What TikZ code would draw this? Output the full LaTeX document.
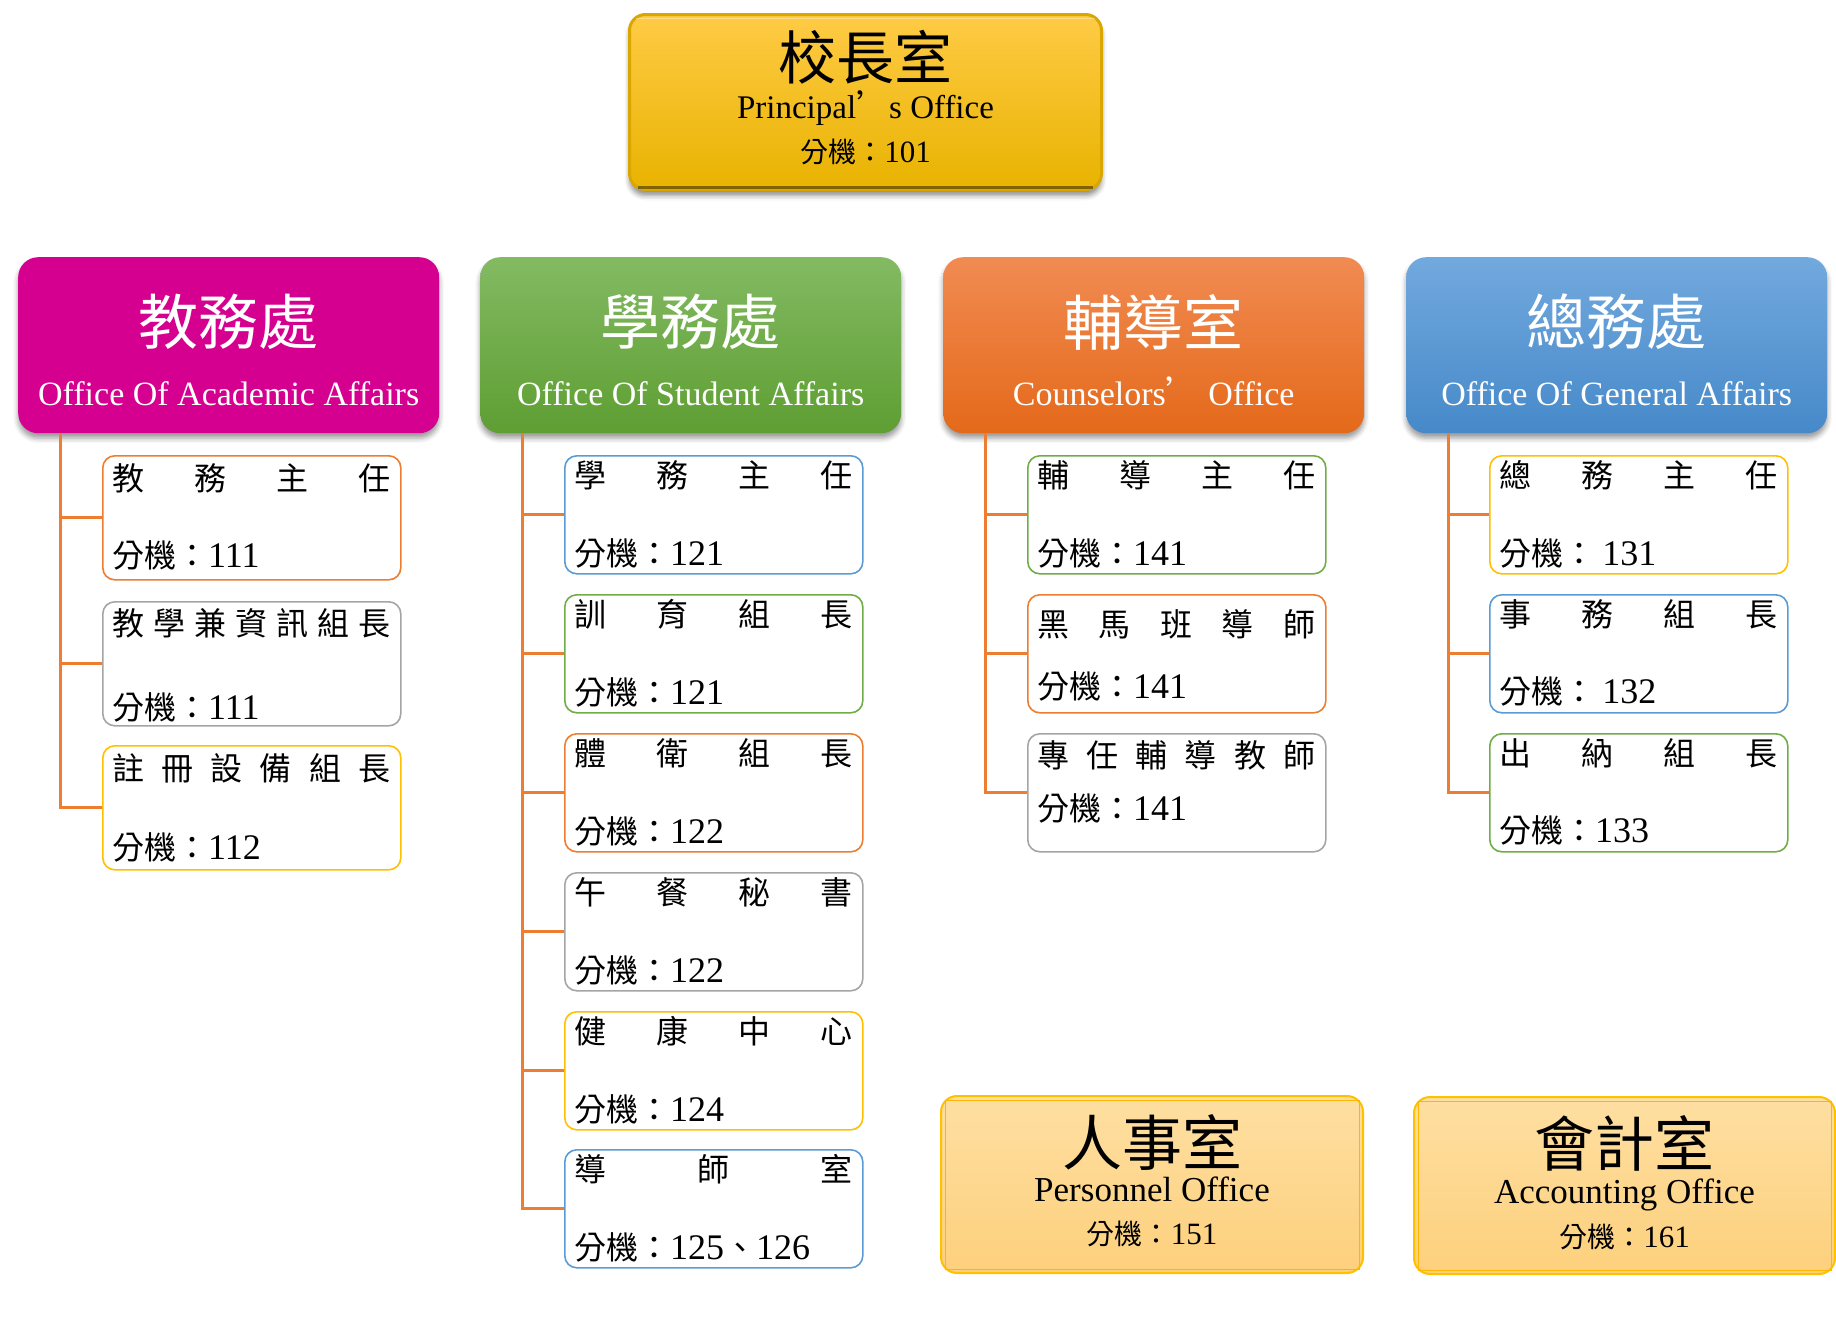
\documentclass[tikz,border=0pt]{standalone}
\usepackage{fontspec}
\setmainfont{Liberation Serif}
\newfontfamily\cjk{Noto Sans CJK TC}
\usetikzlibrary{shadows.blur}
\newcommand\fs[1]{\fontsize{#1}{#1}\selectfont}
\newcommand\ext{\cjk\fs{32}}
\definecolor{cOrange}{HTML}{ED7D31}
\definecolor{cGray}{HTML}{A5A5A5}
\definecolor{cGold}{HTML}{FFC000}
\definecolor{cBlue}{HTML}{5B9BD5}
\definecolor{cGreen}{HTML}{70AD47}
\definecolor{acadC}{HTML}{D5008F}
\definecolor{stuT}{HTML}{83BA63}
\definecolor{stuB}{HTML}{5E9E32}
\definecolor{couT}{HTML}{F18B52}
\definecolor{couB}{HTML}{E4691A}
\definecolor{genT}{HTML}{72A9DE}
\definecolor{genB}{HTML}{4689C9}
\definecolor{prT}{HTML}{FFCB45}
\definecolor{prM}{HTML}{FFC000}
\definecolor{prB}{HTML}{E8B300}
\definecolor{prEdge}{HTML}{D9A700}
\definecolor{btT}{HTML}{FEDFA2}
\definecolor{btB}{HTML}{FDD07C}
\newcommand\cbox[9]{%
  \node[child, draw=#5, minimum height=#4pt] (#1) at (#2,#3) {};
  \node[lineA] (#1a) at ([xshift=10pt,yshift=-#8pt]#1.north west) {#6};
  \node[lineB] (#1b) at ([xshift=10pt,yshift=-#9pt]#1.north west) {#7};
}
\begin{document}
\begin{tikzpicture}[x=1pt,y=-1pt,
  hdr/.style={rectangle, rounded corners=20pt, minimum width=421pt, minimum height=176pt,
    anchor=north west, inner sep=0pt,
    blur shadow={shadow xshift=0pt, shadow yshift=-5pt, shadow opacity=40, shadow blur radius=5pt}},
  htitle/.style={anchor=center, inner sep=0pt, text=white, font=\cjk\fs{60}},
  hen/.style={anchor=base, inner sep=0pt, text=white, font=\fs{34}},
  child/.style={rectangle, rounded corners=12pt, minimum width=298pt, anchor=north west,
    line width=1.6pt, fill=white, inner sep=0pt},
  lineA/.style={anchor=west, inner sep=0pt, font=\cjk\fs{32}},
  lineB/.style={anchor=west, inner sep=0pt, font=\fs{36}},
  conn/.style={draw=cOrange, line width=3pt},
  btm/.style={rectangle, rounded corners=16pt, minimum height=177pt, anchor=north west,
    inner sep=0pt, draw=cGold, line width=2pt, top color=btT, bottom color=btB},
  btitle/.style={anchor=center, inner sep=0pt, font=\cjk\fs{60}},
  ben/.style={anchor=base, inner sep=0pt, font=\fs{35}},
  bext/.style={anchor=center, inner sep=0pt, font=\fs{31}},
]
\useasboundingbox (0,0) rectangle (1836,1336);

% ---------- principal ----------
\node[rectangle, rounded corners=16pt, minimum width=472pt, minimum height=175pt,
  anchor=north west, inner sep=0pt, draw=prEdge, line width=3pt,
  top color=prT, middle color=prM, bottom color=prB,
  blur shadow={shadow xshift=0pt, shadow yshift=-6pt, shadow opacity=45, shadow blur radius=5pt}] (pr) at (628,13) {};
\draw[draw=white, opacity=0.35, line width=1pt] ([xshift=8pt,yshift=-5pt]pr.north west) -- ([xshift=-8pt,yshift=-5pt]pr.north east);
\draw[draw=black!45!prB, line width=3pt] ([xshift=10pt,yshift=4pt]pr.south west) -- ([xshift=-10pt,yshift=4pt]pr.south east);
\node[btitle, font=\cjk\fs{58}] (przh) at ([yshift=-44pt]pr.north) {校長室};
\node[ben, font=\fs{33}] (pren) at ([yshift=-105pt]pr.north) {Principal{\cjk ’}s Office};
\node[bext] (prext) at ([yshift=-139pt]pr.north) {{\cjk\fs{28}分機：}101};

% ---------- headers ----------
\node[hdr, fill=acadC] (acad) at (18,257) {};
\node[htitle] (acadzh) at ([yshift=-65pt]acad.north) {教務處};
\node[hen] (acaden) at ([yshift=-148pt]acad.north) {Office Of Academic Affairs};

\node[hdr, top color=stuT, bottom color=stuB] (stu) at (480,257) {};
\node[htitle] (stuzh) at ([yshift=-65pt]stu.north) {學務處};
\node[hen] (stuen) at ([yshift=-148pt]stu.north) {Office Of Student Affairs};

\node[hdr, top color=couT, bottom color=couB] (cou) at (943,257) {};
\node[htitle] (couzh) at ([yshift=-65pt]cou.north) {輔導室};
\node[hen] (couen) at ([yshift=-148pt]cou.north) {Counselors{\cjk ’} Office};

\node[hdr, top color=genT, bottom color=genB] (gen) at (1406,257) {};
\node[htitle] (genzh) at ([yshift=-65pt]gen.north) {總務處};
\node[hen] (genen) at ([yshift=-148pt]gen.north) {Office Of General Affairs};

% ---------- academic children ----------
\cbox{a1}{102}{455}{124}{cOrange}{\hbox to 278pt{教\hfill 務\hfill 主\hfill 任}}{{\ext 分機：}111}{23}{100}
\cbox{a2}{102}{601}{124}{cGray}{\hbox to 278pt{教\hfill 學\hfill 兼\hfill 資\hfill 訊\hfill 組\hfill 長}}{{\ext 分機：}111}{22}{106}
\cbox{a3}{102}{745}{124}{cGold}{\hbox to 278pt{註\hfill 冊\hfill 設\hfill 備\hfill 組\hfill 長}}{{\ext 分機：}112}{23}{102}

% ---------- student children ----------
\cbox{s1}{564}{455}{118}{cBlue}{\hbox to 278pt{學\hfill 務\hfill 主\hfill 任}}{{\ext 分機：}121}{20}{98}
\cbox{s2}{564}{594}{118}{cGreen}{\hbox to 278pt{訓\hfill 育\hfill 組\hfill 長}}{{\ext 分機：}121}{20}{98}
\cbox{s3}{564}{733}{118}{cOrange}{\hbox to 278pt{體\hfill 衛\hfill 組\hfill 長}}{{\ext 分機：}122}{20}{98}
\cbox{s4}{564}{872}{118}{cGray}{\hbox to 278pt{午\hfill 餐\hfill 秘\hfill 書}}{{\ext 分機：}122}{20}{98}
\cbox{s5}{564}{1011}{118}{cGold}{\hbox to 278pt{健\hfill 康\hfill 中\hfill 心}}{{\ext 分機：}124}{20}{98}
\cbox{s6}{564}{1149}{118}{cBlue}{\hbox to 278pt{導\hfill 師\hfill 室}}{{\ext 分機：}125{\ext 、}126}{20}{98}

% ---------- counselor children ----------
\cbox{c1}{1027}{455}{118}{cGreen}{\hbox to 278pt{輔\hfill 導\hfill 主\hfill 任}}{{\ext 分機：}141}{20}{98}
\cbox{c2}{1027}{594}{118}{cOrange}{\hbox to 278pt{黑\hfill 馬\hfill 班\hfill 導\hfill 師}}{{\ext 分機：}141}{30}{92}
\cbox{c3}{1027}{733}{118}{cGray}{\hbox to 278pt{專\hfill 任\hfill 輔\hfill 導\hfill 教\hfill 師}}{{\ext 分機：}141}{22}{75}

% ---------- general children ----------
\cbox{g1}{1489}{455}{118}{cGold}{\hbox to 278pt{總\hfill 務\hfill 主\hfill 任}}{{\ext 分機： }131}{20}{98}
\cbox{g2}{1489}{594}{118}{cBlue}{\hbox to 278pt{事\hfill 務\hfill 組\hfill 長}}{{\ext 分機： }132}{20}{97}
\cbox{g3}{1489}{733}{118}{cGreen}{\hbox to 278pt{出\hfill 納\hfill 組\hfill 長}}{{\ext 分機：}133}{20}{97}

% ---------- connectors ----------
\foreach \b in {a1,a2,a3} \draw[conn] ([xshift=42pt]acad.south west) |- (\b.west);
\foreach \b in {s1,s2,s3,s4,s5,s6} \draw[conn] ([xshift=42pt]stu.south west) |- (\b.west);
\foreach \b in {c1,c2,c3} \draw[conn] ([xshift=42pt]cou.south west) |- (\b.west);
\foreach \b in {g1,g2,g3} \draw[conn] ([xshift=42pt]gen.south west) |- (\b.west);

% ---------- bottom boxes ----------
\node[btm, minimum width=422pt] (per) at (940,1095) {};
\draw[draw=cGold!85!orange, line width=1pt] ([xshift=5pt,yshift=-5pt]per.north west) rectangle ([xshift=-5pt,yshift=5pt]per.south east);
\node[btitle] (perzh) at ([yshift=-47pt]per.north) {人事室};
\node[ben] (peren) at ([yshift=-106pt]per.north) {Personnel Office};
\node[bext] (perext) at ([yshift=-139pt]per.north) {{\cjk\fs{28}分機：}151};

\node[btm, minimum width=421pt] (acc) at (1413,1096) {};
\draw[draw=cGold!85!orange, line width=1pt] ([xshift=5pt,yshift=-5pt]acc.north west) rectangle ([xshift=-5pt,yshift=5pt]acc.south east);
\node[btitle] (acczh) at ([yshift=-47pt]acc.north) {會計室};
\node[ben] (accen) at ([yshift=-107pt]acc.north) {Accounting Office};
\node[bext] (accext) at ([yshift=-141pt]acc.north) {{\cjk\fs{28}分機：}161};
\end{tikzpicture}
\end{document}
